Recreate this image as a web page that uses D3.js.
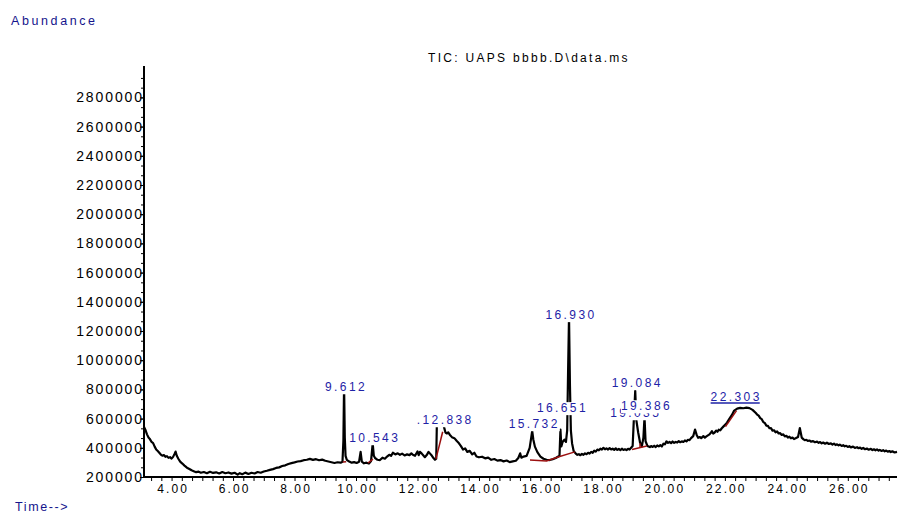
<!DOCTYPE html>
<html><head><meta charset="utf-8">
<script src="https://cdn.jsdelivr.net/npm/d3@7"></script>
<style>
body{margin:0;background:#fff}
svg{display:block}
text{font-family:"Liberation Sans",Arial,sans-serif}
</style>
</head><body>
<svg id="c" width="898" height="514"></svg>
<script>
// ---------- data ----------
const yTickValues = [200000,400000,600000,800000,1000000,1200000,1400000,1600000,1800000,2000000,2200000,2400000,2600000,2800000];
const xTickValues = [4,6,8,10,12,14,16,18,20,22,24,26];
const xTickLabels = ["4.00","6.00","8.00","10.00","12.00","14.00","16.00","18.00","20.00","22.00","24.00","26.00"];

// TIC trace: [retention time (min), abundance]
const ticTrace = [
[3.10,545000],[3.15,522000],[3.20,492000],[3.25,470000],[3.30,458000],[3.35,440000],[3.40,432000],[3.45,408000],
[3.50,388000],[3.55,378000],[3.60,366000],[3.65,354000],[3.70,346000],[3.75,350000],[3.80,338000],[3.85,343000],
[3.90,331000],[3.95,336000],[4.00,326000],[4.05,338000],[4.10,360000],[4.13,374000],[4.17,345000],[4.22,325000],
[4.28,305000],[4.35,292000],[4.42,278000],[4.50,264000],[4.58,255000],[4.65,246000],[4.72,240000],[4.80,233000],
[4.88,237000],[4.95,229000],[5.05,234000],[5.15,226000],[5.25,236000],[5.35,228000],[5.45,232000],[5.55,224000],
[5.65,234000],[5.75,226000],[5.85,231000],[5.95,223000],[6.05,229000],[6.15,216000],[6.22,226000],[6.30,219000],
[6.40,230000],[6.50,221000],[6.60,229000],[6.70,224000],[6.80,234000],[6.90,229000],[7.00,238000],[7.10,243000],
[7.20,249000],[7.30,254000],[7.40,262000],[7.50,266000],[7.60,275000],[7.70,280000],[7.80,289000],[7.90,295000],
[8.00,300000],[8.10,306000],[8.20,309000],[8.30,315000],[8.40,318000],[8.50,324000],[8.60,317000],[8.70,322000],
[8.80,315000],[8.90,319000],[9.00,311000],[9.10,306000],[9.20,301000],[9.30,296000],[9.40,301000],[9.50,298000],
[9.56,304000],[9.59,450000],[9.612,830000],[9.635,470000],[9.66,345000],[9.70,318000],[9.78,306000],[9.86,298000],
[9.94,302000],[10.02,296000],[10.10,305000],[10.15,372000],[10.19,305000],[10.26,294000],[10.34,298000],[10.42,292000],
[10.49,310000],[10.543,430000],[10.58,345000],[10.62,330000],[10.70,318000],[10.78,316000],[10.86,332000],[10.94,325000],
[11.01,340000],[11.08,352000],[11.14,345000],[11.20,366000],[11.28,355000],[11.36,362000],[11.43,352000],[11.50,360000],
[11.58,348000],[11.66,355000],[11.74,350000],[11.80,362000],[11.85,352000],[11.92,345000],[12.00,375000],[12.04,350000],
[12.08,372000],[12.14,360000],[12.20,345000],[12.24,336000],[12.30,350000],[12.36,372000],[12.41,360000],[12.47,345000],
[12.52,330000],[12.57,318000],[12.61,325000],[12.63,560000],[12.68,590000],[12.76,600000],[12.838,595000],[12.86,545000],
[12.91,505000],[12.96,498000],[13.00,506000],[13.05,490000],[13.12,473000],[13.20,466000],[13.28,446000],[13.35,431000],
[13.42,410000],[13.48,388000],[13.55,396000],[13.62,372000],[13.70,379000],[13.78,355000],[13.85,366000],[13.92,340000],
[14.00,335000],[14.10,339000],[14.20,328000],[14.30,333000],[14.40,318000],[14.50,323000],[14.60,312000],[14.70,316000],
[14.80,307000],[14.90,313000],[15.00,302000],[15.10,307000],[15.20,311000],[15.28,330000],[15.34,362000],[15.38,332000],
[15.45,340000],[15.55,345000],[15.65,400000],[15.70,470000],[15.732,515000],[15.77,455000],[15.82,408000],[15.90,370000],
[16.00,340000],[16.10,325000],[16.20,318000],[16.30,316000],[16.40,322000],[16.50,330000],[16.58,340000],[16.62,346000],
[16.651,525000],[16.68,410000],[16.72,440000],[16.78,456000],[16.83,440000],[16.87,520000],[16.90,930000],[16.93,1300000],
[16.96,830000],[16.99,520000],[17.03,430000],[17.08,378000],[17.15,360000],[17.20,352000],[17.25,356000],[17.30,349000],
[17.35,358000],[17.40,352000],[17.45,362000],[17.50,356000],[17.55,366000],[17.60,360000],[17.65,372000],[17.70,366000],
[17.75,380000],[17.80,374000],[17.85,388000],[17.90,383000],[17.95,394000],[18.00,388000],[18.05,400000],[18.10,390000],
[18.15,396000],[18.20,388000],[18.25,398000],[18.30,389000],[18.35,394000],[18.40,386000],[18.45,396000],[18.50,386000],
[18.55,392000],[18.60,384000],[18.65,394000],[18.70,385000],[18.75,390000],[18.80,384000],[18.85,393000],[18.90,388000],
[18.95,400000],[19.00,412000],[19.04,600000],[19.084,790000],[19.12,590000],[19.18,505000],[19.24,436000],[19.30,410000],
[19.35,470000],[19.386,610000],[19.42,445000],[19.48,413000],[19.56,405000],[19.60,412000],[19.65,406000],[19.70,414000],
[19.75,405000],[19.80,416000],[19.85,410000],[19.90,418000],[19.95,409000],[20.00,428000],[20.05,424000],[20.10,444000],
[20.15,434000],[20.20,440000],[20.25,432000],[20.30,443000],[20.35,434000],[20.40,440000],[20.45,436000],[20.50,446000],
[20.55,438000],[20.60,444000],[20.65,440000],[20.70,450000],[20.75,444000],[20.80,455000],[20.85,452000],[20.90,466000],
[20.97,480000],[21.03,525000],[21.08,490000],[21.13,468000],[21.18,474000],[21.23,466000],[21.30,480000],[21.35,470000],
[21.40,478000],[21.45,485000],[21.50,492000],[21.55,505000],[21.58,514000],[21.62,498000],[21.66,503000],[21.72,518000],
[21.76,510000],[21.80,524000],[21.85,520000],[21.90,534000],[21.95,545000],[22.00,556000],[22.07,572000],[22.15,600000],
[22.23,625000],[22.303,655000],[22.40,668000],[22.50,673000],[22.60,671000],[22.70,675000],[22.80,672000],[22.90,660000],
[23.00,640000],[23.05,628000],[23.10,620000],[23.15,603000],[23.20,596000],[23.25,576000],[23.30,570000],[23.35,552000],
[23.40,550000],[23.45,534000],[23.50,535000],[23.55,518000],[23.60,520000],[23.65,506000],[23.70,512000],[23.75,498000],
[23.80,500000],[23.85,488000],[23.90,492000],[23.95,478000],[24.00,482000],[24.05,470000],[24.10,476000],[24.15,465000],
[24.20,470000],[24.25,460000],[24.30,465000],[24.38,474000],[24.44,535000],[24.50,470000],[24.56,458000],[24.60,452000],
[24.65,455000],[24.70,447000],[24.75,450000],[24.80,442000],[24.87,446000],[24.93,438000],[25.00,442000],[25.05,434000],
[25.10,439000],[25.15,430000],[25.20,436000],[25.26,428000],[25.32,435000],[25.38,426000],[25.45,430000],[25.50,422000],
[25.55,429000],[25.60,419000],[25.65,424000],[25.70,416000],[25.74,422000],[25.80,413000],[25.85,418000],[25.90,410000],
[25.95,414000],[26.00,406000],[26.05,411000],[26.10,403000],[26.17,408000],[26.23,399000],[26.30,404000],[26.35,397000],
[26.40,401000],[26.45,393000],[26.50,399000],[26.56,390000],[26.62,395000],[26.68,387000],[26.75,393000],[26.80,384000],
[26.85,390000],[26.90,383000],[26.95,389000],[27.00,381000],[27.04,386000],[27.10,378000],[27.15,384000],[27.20,376000],
[27.25,381000],[27.30,373000],[27.35,378000],[27.40,371000],[27.45,376000],[27.52,368000],[27.60,372000]
];

// integration baselines (dark red)
const baselines = [
  [[9.57,302000],[9.68,304000]],
  [[10.39,296000],[10.55,323000]],
  [[12.60,323000],[12.82,510000]],
  [[15.66,316000],[16.20,310000],[16.55,335000],[17.12,372000]],
  [[18.98,388000],[19.46,412000]],
  [[19.24,398000],[19.24,432000]],
  [[22.02,545000],[22.38,655000]]
];

// peak labels: rt, text, abundance level of label centre
const peakRT     = [9.612, 10.543, 12.838, 15.732, 16.651, 16.930, 19.084, 19.035, 19.386, 22.303];
const peakText   = ["9.612","10.543",".12.838","15.732","16.651","16.930","19.084","19.035","19.386","22.303"];
const peakLevel  = [816000, 467000, 590000, 563000, 673000, 1310000, 844000, 638000, 686000, 748000];
const peakUnder  = [false,false,false,false,false,false,false,false,false,true];

// ---------- chart ----------
const svg = d3.select("#c");
const L=144, R=897, T=66, B=477;
const x = d3.scaleLinear().domain([3.103, 27.6]).range([L, R]);
const y = d3.scaleLinear().domain([200000, 3015000]).range([B, T]);

const blue = "#1e22a6", navy = "#14148c";

// Y axis
const yMinor = d3.range(200000 + 200000/3, 3000000, 200000/3);
svg.append("g").attr("transform",`translate(${L},0)`)
  .call(d3.axisLeft(y).tickValues(yMinor).tickSize(3).tickSizeOuter(0).tickFormat(""))
  .call(g=>g.select(".domain").remove())
  .selectAll("line").attr("stroke","#000").attr("stroke-width",1);
svg.append("g").attr("transform",`translate(${L},0)`)
  .call(d3.axisLeft(y).tickValues(yTickValues).tickSize(4).tickSizeOuter(0).tickPadding(-4).tickFormat(d3.format("d")))
  .call(g=>g.select(".domain").remove())
  .call(g=>g.selectAll("line").attr("stroke","#000").attr("stroke-width",1))
  .call(g=>g.selectAll("text").attr("font-size",14).attr("letter-spacing","1.9px").attr("fill","#000")
      .attr("font-family",'"Liberation Sans",Arial,sans-serif'));

// X axis
const xMinor = d3.range(3 + 1/3, 27.6, 1/3);
svg.append("g").attr("transform",`translate(0,${B})`)
  .call(d3.axisBottom(x).tickValues(xMinor).tickSize(4).tickSizeOuter(0).tickFormat(""))
  .call(g=>g.select(".domain").remove())
  .selectAll("line").attr("stroke","#000").attr("stroke-width",1);
svg.append("g").attr("transform",`translate(1,${B})`)
  .call(d3.axisBottom(x).tickValues(xTickValues).tickSize(0).tickSizeOuter(0).tickPadding(7)
        .tickFormat((d,i)=>xTickLabels[i]))
  .call(g=>g.select(".domain").remove())
  .call(g=>g.selectAll("text").attr("font-size",12).attr("letter-spacing","2.1px").attr("fill","#000")
      .attr("font-family",'"Liberation Sans",Arial,sans-serif'));

// axis lines
svg.append("line").attr("x1",L).attr("x2",L).attr("y1",T).attr("y2",B+1)
  .attr("stroke","#000").attr("stroke-width",2);
svg.append("line").attr("x1",L).attr("x2",R).attr("y1",B).attr("y2",B)
  .attr("stroke","#000").attr("stroke-width",2);

// trace
const line = d3.line().x(d=>x(d[0])).y(d=>y(d[1]));
svg.append("path").datum(ticTrace).attr("d",line)
  .attr("fill","none").attr("stroke","#000").attr("stroke-width",2.2).attr("stroke-linejoin","round");

// baselines
svg.append("g").selectAll("path").data(baselines).join("path")
  .attr("d",line).attr("fill","none").attr("stroke","#9b1010").attr("stroke-width",1.5);

// peak labels with white background
const lg = svg.append("g");
peakRT.forEach((rt,i)=>{
  const g = lg.append("g");
  const bg = g.append("rect").attr("fill","#fff");
  const t = g.append("text").attr("x", x(rt)+2).attr("y", y(peakLevel[i]))
    .attr("dy","0.35em").attr("text-anchor","middle").attr("font-size",12)
    .attr("letter-spacing","2.4px").attr("fill",blue).text(peakText[i]);
  const bb = t.node().getBBox();
  bg.attr("x",bb.x).attr("y",bb.y+1).attr("width",bb.width).attr("height",bb.height-1);
  if (peakUnder[i]) {
    g.append("line").attr("x1",bb.x).attr("x2",bb.x+bb.width-2)
      .attr("y1",y(peakLevel[i])+6).attr("y2",y(peakLevel[i])+6)
      .attr("stroke",blue).attr("stroke-width",1.3);
  }
});

// titles
svg.append("text").attr("x",11).attr("y",25).attr("font-size",12.5).attr("letter-spacing","2.6px")
  .attr("fill",navy).text("Abundance");
svg.append("text").attr("x",428).attr("y",62).attr("font-size",12).attr("letter-spacing","2.3px")
  .attr("fill","#000").text("TIC: UAPS bbbb.D\\data.ms");
svg.append("text").attr("x",15).attr("y",511).attr("font-size",12.5).attr("letter-spacing","1.6px")
  .attr("fill",navy).text("Time-->");
</script>
</body></html>
